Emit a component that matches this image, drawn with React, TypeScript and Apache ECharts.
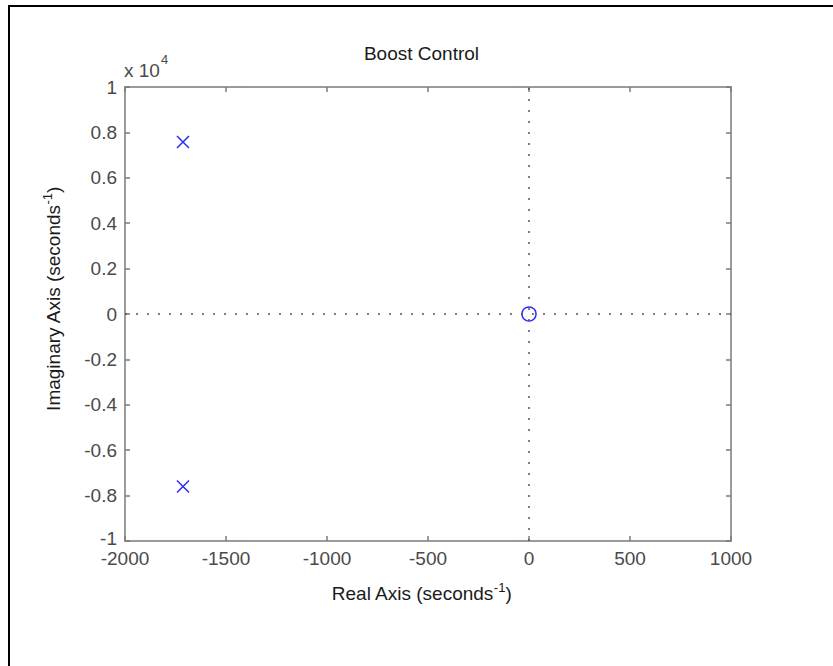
import React, { useEffect, useRef } from "react";
import * as echarts from "echarts";

const poles: [number, number][] = [
  [-1713, 7580],
  [-1713, -7600],
];
const zeros: [number, number][] = [[0, 0]];
const xRange = [-2000, 1000];
const yRange = [-10000, 10000];
const titleText = "Boost Control";
const xTitle = "Real Axis (seconds";
const yTitle = "Imaginary Axis (seconds";

const FONT = "'Liberation Sans', Arial, Helvetica, sans-serif";
const AXIS_COLOR = "#7a7a7a";
const LABEL_COLOR = "#4a4a4a";
const BLUE = "#2a2aff";

export default function App() {
  const ref = useRef<HTMLDivElement>(null);
  useEffect(() => {
    if (!ref.current) return;
    const chart = echarts.init(ref.current, undefined, { renderer: "svg" });
    const axisCommon = {
      axisLine: { show: true, onZero: false, lineStyle: { color: AXIS_COLOR, width: 1.5 } },
      axisTick: { show: true, inside: true, length: 5, lineStyle: { color: AXIS_COLOR, width: 1.5 } },
      splitLine: { show: false },
    };
    chart.setOption({
      animation: false,
      backgroundColor: "#ffffff",
      grid: { left: 125, top: 87, right: 102, bottom: 125, containLabel: false },
      xAxis: [
        {
          type: "value",
          position: "bottom",
          min: xRange[0],
          max: xRange[1],
          interval: 500,
          ...axisCommon,
          axisLabel: {
            color: LABEL_COLOR,
            fontSize: 19,
            fontFamily: FONT,
            margin: 9,
            lineHeight: 16,
            formatter: (v: number) => String(v),
          },
        },
        {
          type: "value",
          position: "top",
          min: xRange[0],
          max: xRange[1],
          interval: 500,
          ...axisCommon,
          axisLabel: { show: false },
        },
      ],
      yAxis: [
        {
          type: "value",
          position: "left",
          min: yRange[0],
          max: yRange[1],
          interval: 2000,
          ...axisCommon,
          axisLabel: {
            color: LABEL_COLOR,
            fontSize: 19,
            fontFamily: FONT,
            margin: 8,
            lineHeight: 14,
            formatter: (v: number) => {
              const s = String(+(v / 10000).toFixed(1));
              return v === yRange[0] ? `{lo|${s}}` : s;
            },
            rich: {
              lo: {
                color: LABEL_COLOR,
                fontSize: 19,
                fontFamily: FONT,
                lineHeight: 14,
                padding: [0, 0, 5, 0],
              },
            },
          },
        },
        {
          type: "value",
          position: "right",
          min: yRange[0],
          max: yRange[1],
          interval: 2000,
          ...axisCommon,
          axisLabel: { show: false },
        },
      ],
      series: [
        {
          type: "scatter",
          xAxisIndex: 0,
          yAxisIndex: 0,
          data: [],
          markLine: {
            silent: true,
            symbol: ["none", "none"],
            label: { show: false },
            lineStyle: { color: "#555555", type: [2, 9], width: 1.5 },
            data: [{ xAxis: 0 }, { yAxis: 0 }],
          },
        },
        {
          type: "scatter",
          name: "poles",
          xAxisIndex: 0,
          yAxisIndex: 0,
          data: poles,
          symbol: "path://M0,0L10,10M10,0L0,10",
          symbolSize: 12,
          itemStyle: { color: "none", borderColor: BLUE, borderWidth: 1.5, opacity: 1 },
        },
        {
          type: "scatter",
          name: "zeros",
          xAxisIndex: 0,
          yAxisIndex: 0,
          data: zeros,
          symbol: "circle",
          symbolSize: 14,
          itemStyle: { color: "none", borderColor: BLUE, borderWidth: 1.5, opacity: 1 },
        },
      ],
      graphic: [
        {
          type: "rect",
          shape: { x: 9, y: 6, width: 1000, height: 1000 },
          style: { fill: "none", stroke: "#000", lineWidth: 2 },
          silent: true,
          z: 0,
        },
        {
          type: "text",
          x: 421.5,
          y: 53,
          style: {
            text: titleText,
            fill: "#1a1a1a",
            font: `19px ${FONT}`,
            align: "center",
            verticalAlign: "middle",
          },
        },
        {
          type: "text",
          x: 124,
          y: 70,
          style: {
            text: "x 10",
            fill: LABEL_COLOR,
            font: `19px ${FONT}`,
            align: "left",
            verticalAlign: "middle",
          },
        },
        {
          type: "text",
          x: 161,
          y: 59,
          style: {
            text: "4",
            fill: LABEL_COLOR,
            font: `13px ${FONT}`,
            align: "left",
            verticalAlign: "middle",
          },
        },
        {
          type: "text",
          x: 421.5,
          y: 593,
          style: {
            text: `{m|${xTitle}}{s|-1}{m|)}`,
            align: "center",
            verticalAlign: "middle",
            rich: {
              m: { font: `19px ${FONT}`, fill: "#1a1a1a", lineHeight: 24 },
              s: { font: `13px ${FONT}`, fill: "#1a1a1a", lineHeight: 24, verticalAlign: "top" },
            },
          },
        },
        {
          type: "text",
          x: 53,
          y: 299,
          rotation: Math.PI / 2,
          style: {
            text: `{m|${yTitle}}{s|-1}{m|)}`,
            align: "center",
            verticalAlign: "middle",
            rich: {
              m: { font: `19px ${FONT}`, fill: "#1a1a1a", lineHeight: 24 },
              s: { font: `13px ${FONT}`, fill: "#1a1a1a", lineHeight: 24, verticalAlign: "top" },
            },
          },
        },
      ],
    });
    return () => chart.dispose();
  }, []);
  return (
    <div
      ref={ref}
      style={{ position: "fixed", left: 0, top: 0, width: 833, height: 666, background: "#fff" }}
    />
  );
}
